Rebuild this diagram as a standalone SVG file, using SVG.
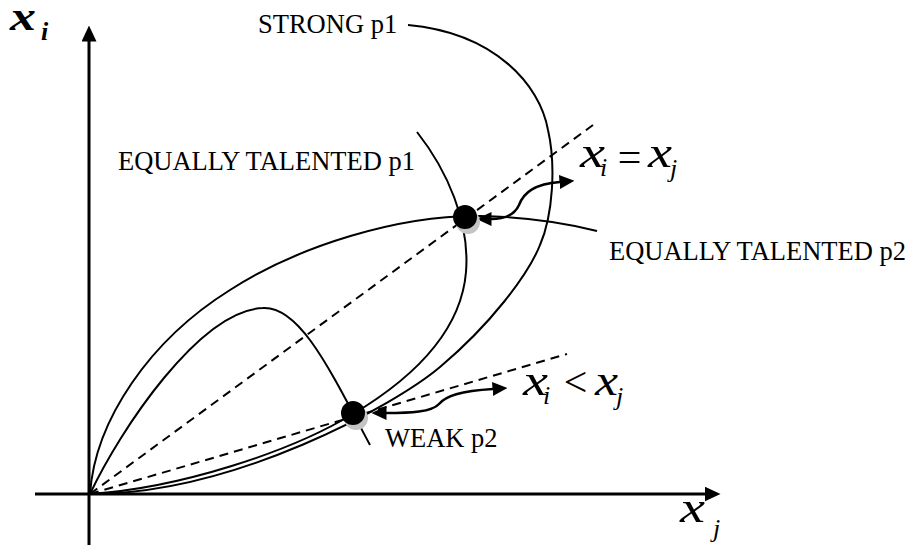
<svg xmlns="http://www.w3.org/2000/svg" width="918" height="546" viewBox="0 0 918 546">
<style>
.lbl{font-family:"Liberation Serif","Times New Roman",serif;font-size:26.5px;fill:#000}
.m{font-family:"Liberation Serif","Times New Roman",serif;font-style:italic;fill:#000}
.curve{fill:none;stroke:#000;stroke-width:2}
.dash{fill:none;stroke:#000;stroke-width:2;stroke-dasharray:9 6}
.axis{fill:none;stroke:#000;stroke-width:3}
.arr{fill:none;stroke:#000;stroke-width:2.5}
.dot{fill:#000}
.halo{fill:#c4c4c4}
</style>
<defs>
<marker id="ah" viewBox="0 0 15 14" refX="0.5" refY="7" markerWidth="15" markerHeight="14" markerUnits="userSpaceOnUse" orient="auto-start-reverse"><path d="M0,0 L15,7 L0,14 z" fill="#000"/></marker>
<marker id="axh" viewBox="0 0 16 15" refX="0.5" refY="7.5" markerWidth="16" markerHeight="15" markerUnits="userSpaceOnUse" orient="auto"><path d="M0,0 L16,7.5 L0,15 z" fill="#000"/></marker>
</defs>
<g id="axes">
<path class="axis" d="M89,545 L89,41" marker-end="url(#axh)"/>
<path class="axis" d="M35,494 L705,494" marker-end="url(#axh)"/>
</g>
<g id="connectors">
<path id="line-equal" class="dash" d="M90,494 L593,125"/>
<path id="line-less" class="dash" d="M90,494 L567,354"/>
<path id="curve-eq-p2" class="curve" d="M90,494 C95,420 150,340 230,290 C300,245 400,215 480,216 C530,217 570,224 597,231"/>
<path id="curve-weak-p2" class="curve" d="M90,494 C120,430 200,310 263,308 C300,306 330,370 370,445"/>
<path id="curve-eq-p1" class="curve" d="M417,132 C447,170 470,222 466,272 C462,320 430,368 353,414 C290,452 180,488 90,494"/>
<path id="curve-strong-p1" class="curve" d="M408,25 C495,33 540,85 548,130 C556,165 553,215 540,245 C528,275 490,325 440,367 C395,405 235,494 90,494"/>
<path id="arrow-equal" class="arr" d="M491,219 C505,219 515,214 519,205 C524,192 535,184 560,182" marker-start="url(#ah)" marker-end="url(#ah)"/>
<path id="arrow-less" class="arr" d="M386,413 C410,413 432,412 439,404 C446,396 460,391 493,389" marker-start="url(#ah)" marker-end="url(#ah)"/>
</g>
<g id="node-equal">
<circle class="halo" cx="468" cy="222" r="12"/>
<circle class="dot" cx="465" cy="217" r="12"/>
</g>
<g id="node-weak">
<circle class="halo" cx="356" cy="418" r="12"/>
<circle class="dot" cx="353" cy="413" r="12"/>
</g>
<g id="labels">
<text class="lbl" x="258" y="33">STRONG p1</text>
<text class="lbl" x="118" y="170">EQUALLY TALENTED p1</text>
<text class="lbl" x="609" y="260">EQUALLY TALENTED p2</text>
<text class="lbl" x="385" y="447">WEAK p2</text>
</g>
<g id="math">
<text class="m" x="10" y="30" font-size="40" font-weight="bold" textLength="26" lengthAdjust="spacingAndGlyphs">x</text>
<text class="m" x="41" y="40" font-size="26" font-weight="bold">i</text>
<text class="m" x="680" y="522" font-size="44" textLength="25" lengthAdjust="spacingAndGlyphs">x</text>
<text class="m" x="713" y="537" font-size="26">j</text>
<text class="m" x="580" y="167" font-size="44" textLength="25" lengthAdjust="spacingAndGlyphs">x</text>
<text class="m" x="600" y="176" font-size="26">i</text>
<text class="m" x="615" y="171" font-size="42" font-style="normal">=</text>
<text class="m" x="648" y="167" font-size="44" textLength="24" lengthAdjust="spacingAndGlyphs">x</text>
<text class="m" x="670" y="177" font-size="26">j</text>
<text class="m" x="523" y="395" font-size="44" textLength="25" lengthAdjust="spacingAndGlyphs">x</text>
<text class="m" x="543" y="404" font-size="26">i</text>
<text class="m" x="561" y="396" font-size="42" font-style="normal">&lt;</text>
<text class="m" x="595" y="395" font-size="44" textLength="23" lengthAdjust="spacingAndGlyphs">x</text>
<text class="m" x="616" y="405" font-size="26">j</text>
</g>
</svg>
